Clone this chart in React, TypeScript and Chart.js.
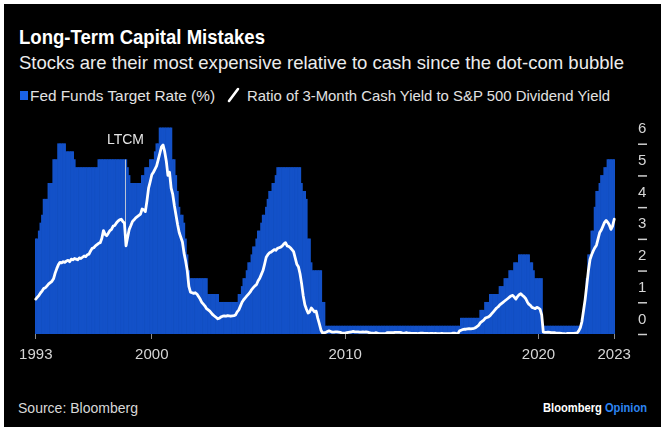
import React, { useEffect, useLayoutEffect, useRef } from "react";
import { Chart, registerables } from "chart.js";

Chart.register(...registerables);

// ---------- DATA ----------
// Monthly observations (month-end), Dec 1993 .. Nov 2023
const firstYear = 1993;
const firstMonth = 12;
const monthCount = 360;
const monthLabels: string[] = [];
for (let k = 0; k < monthCount; k++) {
  const m0 = firstMonth - 1 + k;
  const y = firstYear + Math.floor(m0 / 12);
  const m = (m0 % 12) + 1;
  monthLabels.push(`${y}-${m < 10 ? "0" + m : m}`);
}

// Fed Funds Target Rate (%), upper bound after 2008
const fedFundsRate: number[] = [
  3.0,
  3.0, 3.25, 3.5, 3.75, 4.25, 4.25, 4.25, 4.75, 4.75, 4.75, 5.5, 5.5, // 1994
  5.5, 6.0, 6.0, 6.0, 6.0, 6.0, 5.75, 5.75, 5.75, 5.75, 5.75, 5.5, // 1995
  5.25, 5.25, 5.25, 5.25, 5.25, 5.25, 5.25, 5.25, 5.25, 5.25, 5.25, 5.25, // 1996
  5.25, 5.25, 5.5, 5.5, 5.5, 5.5, 5.5, 5.5, 5.5, 5.5, 5.5, 5.5, // 1997
  5.5, 5.5, 5.5, 5.5, 5.5, 5.5, 5.5, 5.5, 5.25, 5.0, 4.75, 4.75, // 1998
  4.75, 4.75, 4.75, 4.75, 4.75, 5.0, 5.0, 5.25, 5.25, 5.25, 5.5, 5.5, // 1999
  5.5, 5.75, 6.0, 6.0, 6.5, 6.5, 6.5, 6.5, 6.5, 6.5, 6.5, 6.5, // 2000
  5.5, 5.5, 5.0, 4.5, 4.0, 3.75, 3.75, 3.5, 3.0, 2.5, 2.0, 1.75, // 2001
  1.75, 1.75, 1.75, 1.75, 1.75, 1.75, 1.75, 1.75, 1.75, 1.75, 1.25, 1.25, // 2002
  1.25, 1.25, 1.25, 1.25, 1.25, 1.0, 1.0, 1.0, 1.0, 1.0, 1.0, 1.0, // 2003
  1.0, 1.0, 1.0, 1.0, 1.0, 1.25, 1.25, 1.5, 1.75, 1.75, 2.0, 2.25, // 2004
  2.25, 2.5, 2.75, 2.75, 3.0, 3.25, 3.25, 3.5, 3.75, 3.75, 4.0, 4.25, // 2005
  4.5, 4.5, 4.75, 4.75, 5.0, 5.25, 5.25, 5.25, 5.25, 5.25, 5.25, 5.25, // 2006
  5.25, 5.25, 5.25, 5.25, 5.25, 5.25, 5.25, 5.25, 4.75, 4.5, 4.5, 4.25, // 2007
  3.0, 3.0, 2.25, 2.0, 2.0, 2.0, 2.0, 2.0, 2.0, 1.0, 1.0, 0.25, // 2008
  0.25, 0.25, 0.25, 0.25, 0.25, 0.25, 0.25, 0.25, 0.25, 0.25, 0.25, 0.25, // 2009
  0.25, 0.25, 0.25, 0.25, 0.25, 0.25, 0.25, 0.25, 0.25, 0.25, 0.25, 0.25, // 2010
  0.25, 0.25, 0.25, 0.25, 0.25, 0.25, 0.25, 0.25, 0.25, 0.25, 0.25, 0.25, // 2011
  0.25, 0.25, 0.25, 0.25, 0.25, 0.25, 0.25, 0.25, 0.25, 0.25, 0.25, 0.25, // 2012
  0.25, 0.25, 0.25, 0.25, 0.25, 0.25, 0.25, 0.25, 0.25, 0.25, 0.25, 0.25, // 2013
  0.25, 0.25, 0.25, 0.25, 0.25, 0.25, 0.25, 0.25, 0.25, 0.25, 0.25, 0.25, // 2014
  0.25, 0.25, 0.25, 0.25, 0.25, 0.25, 0.25, 0.25, 0.25, 0.25, 0.25, 0.5, // 2015
  0.5, 0.5, 0.5, 0.5, 0.5, 0.5, 0.5, 0.5, 0.5, 0.5, 0.5, 0.75, // 2016
  0.75, 0.75, 1.0, 1.0, 1.0, 1.25, 1.25, 1.25, 1.25, 1.25, 1.25, 1.5, // 2017
  1.5, 1.5, 1.75, 1.75, 1.75, 2.0, 2.0, 2.0, 2.25, 2.25, 2.25, 2.5, // 2018
  2.5, 2.5, 2.5, 2.5, 2.5, 2.5, 2.25, 2.25, 2.0, 1.75, 1.75, 1.75, // 2019
  1.75, 1.75, 0.25, 0.25, 0.25, 0.25, 0.25, 0.25, 0.25, 0.25, 0.25, 0.25, // 2020
  0.25, 0.25, 0.25, 0.25, 0.25, 0.25, 0.25, 0.25, 0.25, 0.25, 0.25, 0.25, // 2021
  0.25, 0.25, 0.5, 0.5, 1.0, 1.75, 2.5, 2.5, 3.25, 3.25, 4.0, 4.5, // 2022
  4.5, 4.75, 5.0, 5.0, 5.25, 5.25, 5.5, 5.5, 5.5, 5.5, 5.5, // 2023
];

// Ratio of 3-Month Cash Yield to S&P 500 Dividend Yield
const cashToDividendRatio: number[] = [
  1.1,
  1.16, 1.22, 1.3, 1.36, 1.44, 1.46, 1.52, 1.58, 1.62, 1.66, 1.74, 1.92, // 1994
  2.06, 2.18, 2.26, 2.24, 2.28, 2.26, 2.3, 2.32, 2.28, 2.36, 2.34, 2.38, // 1995
  2.36, 2.34, 2.4, 2.38, 2.42, 2.46, 2.44, 2.5, 2.52, 2.62, 2.7, 2.72, // 1996
  2.78, 2.82, 2.86, 2.88, 3.02, 3.26, 3.14, 3.1, 3.18, 3.26, 3.3, 3.4, // 1997
  3.42, 3.5, 3.56, 3.6, 3.62, 3.55, 3.5, 2.78, 3.05, 3.3, 3.42, 3.55, // 1998
  3.6, 3.66, 3.7, 3.74, 3.78, 3.94, 3.92, 3.86, 4.2, 4.6, 4.8, 5.02, // 1999
  5.1, 5.2, 5.3, 5.5, 5.7, 5.9, 5.96, 5.75, 5.45, 5.0, 5.1, 4.6, // 2000
  4.4, 4.05, 3.75, 3.45, 3.2, 3.05, 2.9, 2.55, 2.3, 2.0, 1.5, 1.32, // 2001
  1.3, 1.28, 1.3, 1.26, 1.18, 1.1, 1.0, 0.94, 0.88, 0.8, 0.76, 0.72, // 2002
  0.66, 0.6, 0.56, 0.52, 0.48, 0.5, 0.54, 0.56, 0.57, 0.56, 0.58, 0.57, // 2003
  0.56, 0.57, 0.58, 0.6, 0.7, 0.76, 0.88, 1.0, 1.08, 1.14, 1.2, 1.26, // 2004
  1.32, 1.4, 1.46, 1.52, 1.56, 1.68, 1.76, 1.88, 2.0, 2.2, 2.42, 2.5, // 2005
  2.56, 2.58, 2.62, 2.66, 2.64, 2.7, 2.72, 2.74, 2.78, 2.84, 2.88, 2.78, // 2006
  2.76, 2.72, 2.66, 2.6, 2.4, 2.2, 2.12, 1.9, 1.58, 1.2, 0.92, 0.78, // 2007
  0.66, 0.7, 0.82, 0.76, 0.7, 0.72, 0.5, 0.32, 0.12, 0.03, 0.04, 0.05, // 2008
  0.08, 0.1, 0.08, 0.06, 0.06, 0.07, 0.07, 0.06, 0.05, 0.03, 0.03, 0.03, // 2009
  0.04, 0.05, 0.06, 0.07, 0.08, 0.07, 0.07, 0.07, 0.06, 0.06, 0.07, 0.06, // 2010
  0.07, 0.06, 0.04, 0.03, 0.03, 0.02, 0.04, 0.03, 0.01, 0.01, 0.01, 0.01, // 2011
  0.01, 0.04, 0.04, 0.04, 0.04, 0.04, 0.05, 0.05, 0.05, 0.05, 0.04, 0.02, // 2012
  0.03, 0.04, 0.03, 0.03, 0.02, 0.02, 0.02, 0.02, 0.01, 0.02, 0.03, 0.03, // 2013
  0.02, 0.02, 0.02, 0.01, 0.02, 0.02, 0.01, 0.02, 0.01, 0.01, 0.01, 0.02, // 2014
  0.01, 0.01, 0.01, 0.01, 0.01, 0.01, 0.03, 0.03, 0.01, 0.01, 0.1, 0.12, // 2015
  0.14, 0.15, 0.15, 0.16, 0.17, 0.16, 0.17, 0.18, 0.2, 0.24, 0.28, 0.36, // 2016
  0.4, 0.44, 0.5, 0.52, 0.54, 0.58, 0.64, 0.7, 0.76, 0.82, 0.86, 0.92, // 2017
  0.96, 1.0, 1.04, 1.08, 1.12, 1.16, 1.2, 1.22, 1.16, 1.1, 1.18, 1.24, // 2018
  1.27, 1.22, 1.18, 1.12, 1.02, 0.94, 0.9, 0.84, 0.82, 0.8, 0.84, 0.82, // 2019
  0.78, 0.6, 0.06, 0.05, 0.05, 0.06, 0.05, 0.04, 0.04, 0.04, 0.03, 0.03, // 2020
  0.03, 0.02, 0.01, 0.01, 0.0, 0.02, 0.02, 0.02, 0.02, 0.02, 0.03, 0.03, // 2021
  0.1, 0.2, 0.4, 0.75, 1.1, 1.55, 2.0, 2.35, 2.5, 2.62, 2.72, 2.8, // 2022
  3.0, 3.2, 3.28, 3.4, 3.52, 3.58, 3.52, 3.44, 3.3, 3.4, 3.62, // 2023
];

const xTickIndices = [0, 72, 192, 312, 359];
const xTickLabels = ["1993", "2000", "2010", "2020", "2023"];
const yTickValues = [0, 1, 2, 3, 4, 5, 6];

const ltcmIndex = 56;
const ltcmLabel = "LTCM";
const ltcmTopValue = 5.5;

const seriesNames = ["Fed Funds Target Rate (%)", "Ratio of 3-Month Cash Yield to S&P 500 Dividend Yield"];

// ---------- STYLE ----------
const FONT = '"Liberation Sans", Arial, Helvetica, sans-serif';
const BAR_BLUE = "#1351c8";
const LEGEND_BLUE = "#1a62e6";

function FitText(props: {
  text: React.ReactNode;
  left: number;
  top: number;
  width: number;
  style: React.CSSProperties;
}) {
  const ref = useRef<HTMLSpanElement>(null);
  useLayoutEffect(() => {
    const el = ref.current;
    if (!el) return;
    el.style.transform = "none";
    const w = el.getBoundingClientRect().width;
    if (w > 0) el.style.transform = `scaleX(${props.width / w})`;
  }, [props.width]);
  return (
    <span
      ref={ref}
      style={{
        position: "absolute",
        left: props.left,
        top: props.top,
        whiteSpace: "nowrap",
        transformOrigin: "0 0",
        lineHeight: 1,
        fontFamily: FONT,
        ...props.style,
      }}
    >
      {props.text}
    </span>
  );
}

const decorPlugin = {
  id: "decor",
  afterDatasetDraw(chart: any, args: any) {
    if (args.index !== 1) return;
    const xs = chart.scales.x;
    const ys = chart.scales.y;
    const ctx = chart.ctx;
    const x = Math.round((xs.getPixelForValue(ltcmIndex - 1) + xs.getPixelForValue(ltcmIndex)) / 2) + 0.5;
    const yTop = ys.getPixelForValue(ltcmTopValue);
    const yBot = ys.getPixelForValue(cashToDividendRatio[ltcmIndex]);
    ctx.save();
    ctx.strokeStyle = "rgba(215,215,215,0.85)";
    ctx.lineWidth = 1;
    ctx.beginPath();
    ctx.moveTo(x, yTop);
    ctx.lineTo(x, yBot);
    ctx.stroke();
    ctx.fillStyle = "#e6e6e6";
    ctx.font = `14px ${FONT}`;
    ctx.textAlign = "center";
    ctx.textBaseline = "middle";
    ctx.fillText(ltcmLabel, x, yTop - 19);
    ctx.restore();
  },
  afterDraw(chart: any) {
    const ys = chart.scales.y;
    const ctx = chart.ctx;
    const x0 = chart.chartArea.right + 23;
    ctx.save();
    ctx.strokeStyle = "#cfcfcf";
    ctx.lineWidth = 1.5;
    for (const v of yTickValues) {
      const y = ys.getPixelForValue(v) + 0.5;
      ctx.beginPath();
      ctx.moveTo(x0, y);
      ctx.lineTo(x0 + 9, y);
      ctx.stroke();
    }
    ctx.restore();
  },
};

function ChartCanvas() {
  const canvasRef = useRef<HTMLCanvasElement>(null);
  useEffect(() => {
    const canvas = canvasRef.current;
    if (!canvas) return;
    const tickMap: Record<number, string> = {};
    xTickIndices.forEach((idx, k) => (tickMap[idx] = xTickLabels[k]));
    const chart = new Chart(canvas, {
      type: "bar",
      data: {
        labels: monthLabels,
        datasets: [
          {
            type: "line",
            label: seriesNames[1],
            data: cashToDividendRatio,
            borderColor: "#ffffff",
            borderWidth: 2.8,
            pointRadius: 0,
            tension: 0,
            borderJoinStyle: "round",
            borderCapStyle: "round",
            order: 0,
          } as any,
          {
            type: "bar",
            label: seriesNames[0],
            data: fedFundsRate,
            backgroundColor: BAR_BLUE,
            borderWidth: 0,
            barPercentage: 1,
            categoryPercentage: 1,
            order: 1,
          } as any,
        ],
      },
      options: {
        animation: false,
        responsive: false,
        maintainAspectRatio: false,
        events: [],
        layout: { padding: { left: 31, top: 20, right: 0, bottom: 0 } },
        plugins: {
          legend: { display: false },
          tooltip: { enabled: false },
          title: { display: false },
        },
        scales: {
          x: {
            type: "category",
            offset: true,
            grid: {
              display: true,
              offset: false,
              drawOnChartArea: false,
              drawTicks: true,
              tickLength: 5,
              lineWidth: 1,
              color: (ctx: any) => (tickMap[ctx.index] !== undefined ? "#8c8c8c" : "rgba(0,0,0,0)"),
            },
            border: { display: false },
            ticks: {
              autoSkip: false,
              maxRotation: 0,
              minRotation: 0,
              padding: 7,
              color: "#d6d6d6",
              font: { family: FONT, size: 15 },
              callback: (_v: any, i: number) => (tickMap[i] !== undefined ? tickMap[i] : ""),
            },
            afterFit: (s: any) => {
              s.height = 36;
            },
          },
          y: {
            position: "right",
            min: 0,
            max: 7,
            grid: { display: false, drawTicks: false },
            border: { display: false },
            ticks: {
              stepSize: 1,
              padding: 23,
              labelOffset: -14.5,
              color: "#d6d6d6",
              font: { family: FONT, size: 15 },
            },
            afterBuildTicks: (s: any) => {
              s.ticks = s.ticks.filter((t: any) => yTickValues.includes(t.value));
            },
            afterFit: (s: any) => {
              s.width = 46;
            },
          },
        },
      } as any,
      plugins: [decorPlugin],
    });
    return () => chart.destroy();
  }, []);
  return (
    <canvas
      ref={canvasRef}
      width={657}
      height={290}
      style={{ position: "absolute", left: 4, top: 80, width: 657, height: 290 }}
    />
  );
}

export default function App() {
  return (
    <div
      style={{
        position: "absolute",
        left: 0,
        top: 0,
        width: 669,
        height: 427,
        background: "#ffffff",
        overflow: "hidden",
      }}
    >
      <div style={{ position: "absolute", left: 4, top: 4, width: 657, height: 423, background: "#000000" }} />
      <FitText
        text="Long-Term Capital Mistakes"
        left={19}
        top={27.4}
        width={246}
        style={{ fontSize: 20, fontWeight: 700, color: "#ffffff" }}
      />
      <FitText
        text="Stocks are their most expensive relative to cash since the dot-com bubble"
        left={18.5}
        top={52.5}
        width={605}
        style={{ fontSize: 19, color: "#ececec" }}
      />
      <div style={{ position: "absolute", left: 19.5, top: 90.5, width: 8, height: 9, background: LEGEND_BLUE }} />
      <FitText
        text={seriesNames[0]}
        left={29.5}
        top={88}
        width={185}
        style={{ fontSize: 15, color: "#e2e2e2" }}
      />
      <svg style={{ position: "absolute", left: 226, top: 87 }} width={15} height={16}>
        <line x1={3} y1={14} x2={12} y2={2} stroke="#ffffff" strokeWidth={2.6} strokeLinecap="round" />
      </svg>
      <FitText
        text={seriesNames[1]}
        left={246.5}
        top={88}
        width={363}
        style={{ fontSize: 15, color: "#e2e2e2" }}
      />
      <ChartCanvas />
      <FitText
        text="Source: Bloomberg"
        left={18}
        top={400.9}
        width={120}
        style={{ fontSize: 14.5, color: "#d8d8d8" }}
      />
      <FitText
        text={
          <>
            <span style={{ color: "#ffffff" }}>Bloomberg</span>{" "}
            <span style={{ color: "#2d84f2" }}>Opinion</span>
          </>
        }
        left={543}
        top={400.6}
        width={104}
        style={{ fontSize: 13.5, fontWeight: 700 }}
      />
    </div>
  );
}
